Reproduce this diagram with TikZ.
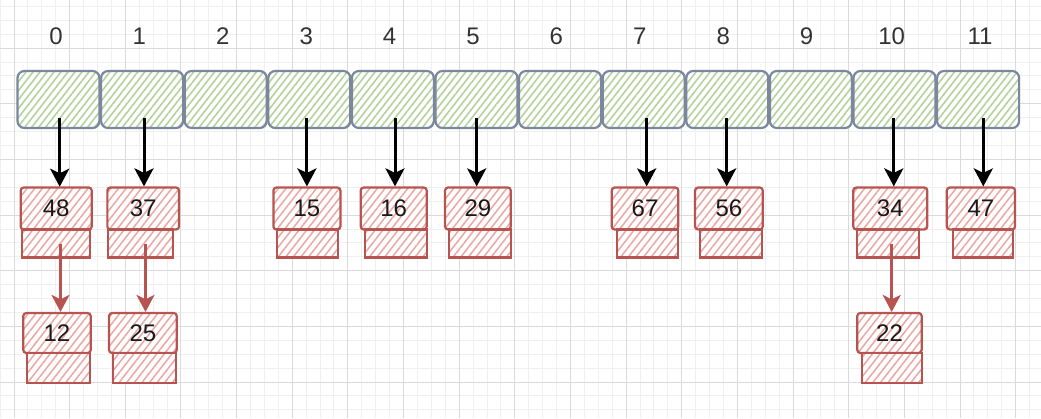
\documentclass[tikz,border=0pt]{standalone}
\usepackage{fontspec}
\setmainfont{Liberation Sans}
\usetikzlibrary{patterns.meta,arrows.meta}

\definecolor{gridminor}{HTML}{EFEFEF}
\definecolor{gridmajor}{HTML}{DADADA}
\definecolor{cellstroke}{HTML}{7A879E}
\definecolor{cellhatch}{HTML}{B3D29C}
\definecolor{nodestroke}{HTML}{B85450}
\definecolor{nodehatch}{HTML}{EBA7A2}
\definecolor{labelgray}{HTML}{333333}

\tikzset{
  digits/.style={font=\fontsize{24}{28}\selectfont},
  cell/.style={draw=cellstroke, line width=2.2pt, rounded corners=7pt,
    minimum width=82pt, minimum height=57pt, inner sep=0pt,
    preaction={fill=white},
    pattern={Lines[angle=52,distance=5.5pt,line width=1.6pt]}, pattern color=cellhatch},
  idx/.style={digits, text=labelgray, inner sep=0pt},
  valbox/.style={draw=nodestroke, line width=2.2pt, rounded corners=3pt,
    minimum height=42pt, inner sep=0pt, digits, text=black!90,
    preaction={fill=white},
    pattern={Lines[angle=52,distance=6pt,line width=1.5pt]}, pattern color=nodehatch},
  ptrbox/.style={draw=nodestroke, line width=2.2pt, minimum height=28pt, inner sep=0pt,
    preaction={fill=white},
    pattern={Lines[angle=52,distance=6pt,line width=1.5pt]}, pattern color=nodehatch},
  blk/.style={draw=black, line width=3pt,
    -{Stealth[length=18pt,width=19pt,inset=4.5pt]}},
  redarr/.style={draw=nodestroke, line width=2.8pt,
    -{Stealth[length=17pt,width=18pt,inset=4.5pt]}},
}

\begin{document}
\begin{tikzpicture}[x=1pt,y=-1pt]
\useasboundingbox (0,0) rectangle (1041,418);
\fill[white] (0,0) rectangle (1041,418);

% background grid: minor lines, then major lines
\begin{scope}
\clip (0,0) rectangle (1041,418);
\foreach \k in {0,...,74}{
  \pgfmathsetmacro{\gx}{0.09+13.9125*\k}
  \draw[gridminor, line width=1pt] (\gx,0) -- (\gx,418);
}
\foreach \k in {0,...,29}{
  \pgfmathsetmacro{\gy}{6.41+13.9125*\k}
  \draw[gridminor, line width=1pt] (0,\gy) -- (1041,\gy);
}
\foreach \k in {0,...,18}{
  \pgfmathsetmacro{\gx}{14+55.65*\k}
  \draw[gridmajor, line width=1pt] (\gx,0) -- (\gx,418);
}
\foreach \k in {1,...,7}{
  \pgfmathsetmacro{\gy}{-7.5+55.65*\k}
  \draw[gridmajor, line width=1pt] (0,\gy) -- (1041,\gy);
}
\end{scope}

% index labels
\foreach \i in {0,...,9}{
  \node[idx] (l\i) at ({56+83.4*\i},36) {\i};
}
\node[idx] (l10) at (891.7,36) {10};
\node[idx] (l11) at (980,36) {11};

% bucket array
\foreach \i in {0,...,11}{
  \node[cell] (c\i) at ({58.5+83.6*\i},99.5) {};
}

% first nodes of each chain
\node[valbox, minimum width=71pt]   (v48) at (56.2,208.5) {48};
\node[valbox, minimum width=71.7pt] (v37) at (143.2,208.5) {37};
\node[valbox, minimum width=67pt]   (v15) at (306.9,208.5) {15};
\node[valbox, minimum width=66pt]   (v16) at (393.7,208.5) {16};
\node[valbox, minimum width=65.7pt] (v29) at (477.9,208.5) {29};
\node[valbox, minimum width=66.6pt] (v67) at (645,208.5) {67};
\node[valbox, minimum width=67.7pt] (v56) at (728.9,208.5) {56};
\node[valbox, minimum width=74pt]   (v34) at (890.3,208.5) {34};
\node[valbox, minimum width=68.3pt] (v47) at (980.9,208.5) {47};

\node[ptrbox, minimum width=68.3pt] (p48) at (55.9,243.5) {};
\node[ptrbox, minimum width=65pt]   (p37) at (140.8,243.5) {};
\node[ptrbox, minimum width=61.6pt] (p15) at (307.5,243.5) {};
\node[ptrbox, minimum width=61.7pt] (p16) at (395.9,243.5) {};
\node[ptrbox, minimum width=61.4pt] (p29) at (480,243.5) {};
\node[ptrbox, minimum width=61.6pt] (p67) at (647.5,243.5) {};
\node[ptrbox, minimum width=61.7pt] (p56) at (730.9,243.5) {};
\node[ptrbox, minimum width=62.3pt] (p34) at (887.9,243.5) {};
\node[ptrbox, minimum width=60pt]   (p47) at (983.3,243.5) {};

% second nodes
\node[valbox, minimum width=67.4pt, minimum height=40pt] (v12) at (57,333) {12};
\node[valbox, minimum width=67.7pt, minimum height=40pt] (v25) at (142.9,333) {25};
\node[valbox, minimum width=64.4pt, minimum height=40pt] (v22) at (889.5,333) {22};

\node[ptrbox, minimum width=63.3pt, minimum height=29.7pt] (p12) at (58.4,368.2) {};
\node[ptrbox, minimum width=62.4pt, minimum height=29.7pt] (p25) at (144.5,368.2) {};
\node[ptrbox, minimum width=60pt,   minimum height=29.7pt] (p22) at (891.7,368.2) {};

% bucket pointers
\draw[blk, shorten <=-11pt, transform canvas={xshift=3.5pt}] (v48.north |- c0.south) -- (v48.north);
\draw[blk, shorten <=-11pt, transform canvas={xshift=0.8pt}] (v37.north |- c1.south) -- (v37.north);
\draw[blk, shorten <=-11pt] (v15.north |- c3.south) -- (v15.north);
\draw[blk, shorten <=-11pt, transform canvas={xshift=1.3pt}] (v16.north |- c4.south) -- (v16.north);
\draw[blk, shorten <=-11pt, transform canvas={xshift=-1.2pt}] (v29.north |- c5.south) -- (v29.north);
\draw[blk, shorten <=-11pt, transform canvas={xshift=1.7pt}] (v67.north |- c7.south) -- (v67.north);
\draw[blk, shorten <=-11pt, transform canvas={xshift=-2.2pt}] (v56.north |- c8.south) -- (v56.north);
\draw[blk, shorten <=-11pt, transform canvas={xshift=3.5pt}] (v34.north |- c10.south) -- (v34.north);
\draw[blk, shorten <=-11pt, transform canvas={xshift=2.4pt}] (v47.north |- c11.south) -- (v47.north);

% next pointers
\draw[redarr, transform canvas={xshift=3.5pt}] (v12.north |- p48.center) -- (v12.north);
\draw[redarr, transform canvas={xshift=2.6pt}] (v25.north |- p37.center) -- (v25.north);
\draw[redarr, transform canvas={xshift=2.2pt}] (v22.north |- p34.center) -- (v22.north);
\end{tikzpicture}
\end{document}
